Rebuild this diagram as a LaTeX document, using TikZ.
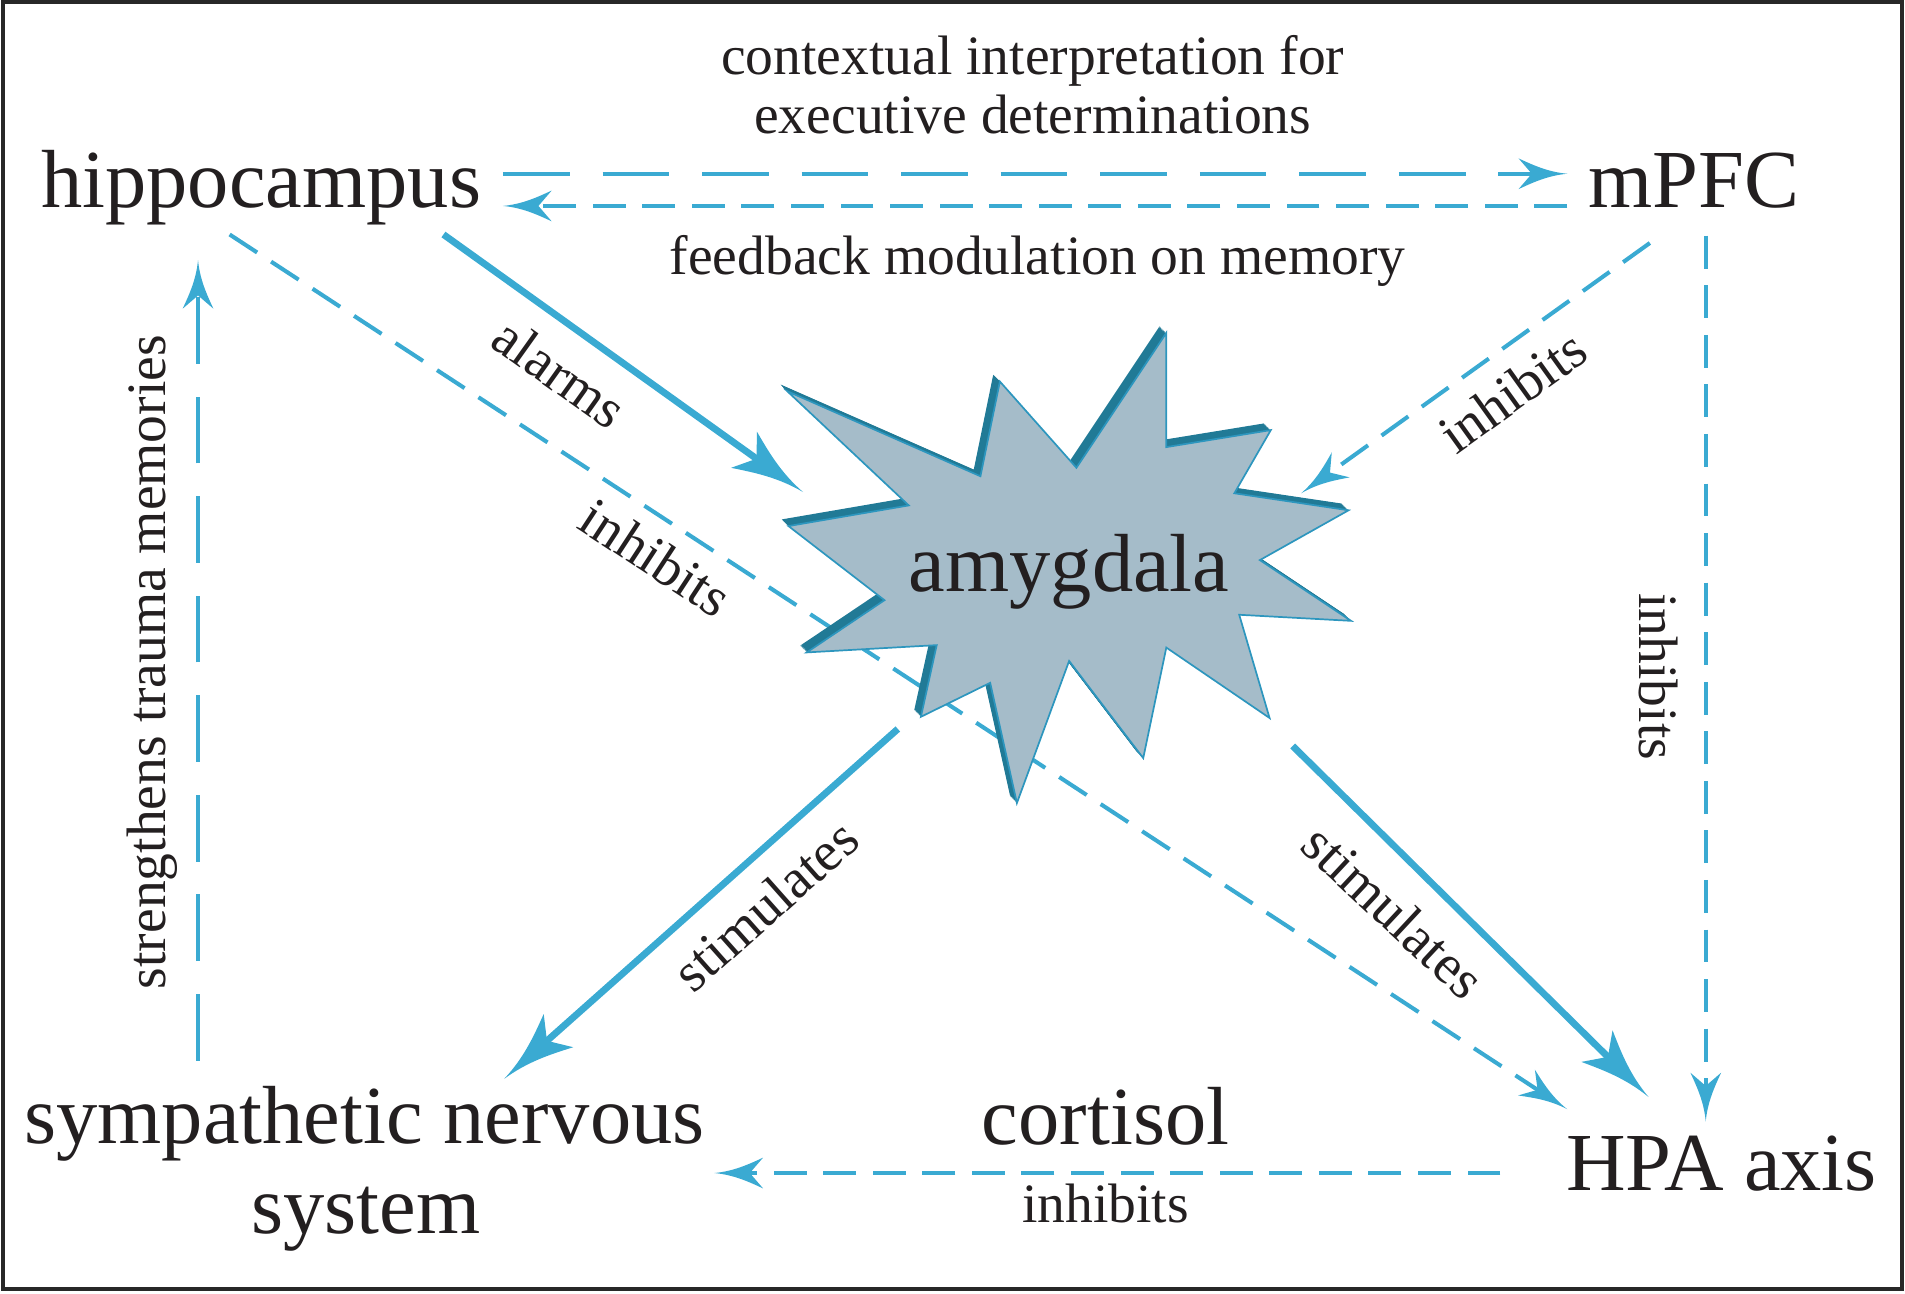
\documentclass[tikz,border=0pt]{standalone}
\usepackage{fontspec}
\setmainfont{Liberation Serif}
\usetikzlibrary{arrows.meta}
\definecolor{arrowblue}{RGB}{58,170,210}
\definecolor{starfill}{RGB}{165,188,201}
\definecolor{stardark}{RGB}{33,122,150}
\definecolor{starline}{RGB}{45,150,190}
\definecolor{txt}{RGB}{35,31,32}
\definecolor{frame}{RGB}{40,40,40}

\pgfdeclarearrow{
  name = Curvy,
  parameters = {\the\pgfarrowlength,\the\pgfarrowwidth,\the\pgfarrowinset},
  setup code = {
    \pgfarrowssettipend{\pgfarrowlength}
    \pgfarrowssetlineend{0.5\pgfarrowlength}
    \pgfarrowssetbackend{0pt}
    \pgfarrowssavethe\pgfarrowlength
    \pgfarrowssavethe\pgfarrowwidth
    \pgfarrowssavethe\pgfarrowinset
  },
  drawing code = {
    \pgfpathmoveto{\pgfqpoint{\pgfarrowlength}{0pt}}
    \pgfpathcurveto{\pgfqpoint{0.6\pgfarrowlength}{0.06\pgfarrowwidth}}{\pgfqpoint{0.3\pgfarrowlength}{0.28\pgfarrowwidth}}{\pgfqpoint{0pt}{0.5\pgfarrowwidth}}
    \pgfpathcurveto{\pgfqpoint{0.4\pgfarrowinset}{0.3\pgfarrowwidth}}{\pgfqpoint{0.8\pgfarrowinset}{0.1\pgfarrowwidth}}{\pgfqpoint{\pgfarrowinset}{0pt}}
    \pgfpathcurveto{\pgfqpoint{0.8\pgfarrowinset}{-0.1\pgfarrowwidth}}{\pgfqpoint{0.4\pgfarrowinset}{-0.3\pgfarrowwidth}}{\pgfqpoint{0pt}{-0.5\pgfarrowwidth}}
    \pgfpathcurveto{\pgfqpoint{0.3\pgfarrowlength}{-0.28\pgfarrowwidth}}{\pgfqpoint{0.6\pgfarrowlength}{-0.06\pgfarrowwidth}}{\pgfqpoint{\pgfarrowlength}{0pt}}
    \pgfpathclose
    \pgfusepathqfill
  },
  defaults = {length=10pt, width=6pt, inset=2pt}
}

\begin{document}
\begin{tikzpicture}[x=0.01cm,y=-0.01cm,
  big/.style={font=\fontsize{19.3pt}{23pt}\selectfont, text=txt, inner sep=0pt},
  small/.style={font=\fontsize{13pt}{15pt}\selectfont, text=txt, inner sep=0pt},
  solidarrow/.style={draw=arrowblue, line width=1.6pt, -{Curvy[length=17pt,width=10.4pt,inset=3.6pt]}},
  longdash/.style={draw=arrowblue, line width=0.95pt, dash pattern=on 15.6pt off 7.7pt, -{Curvy[length=11.4pt,width=7.2pt,inset=3.1pt]}},
  shortdash/.style={draw=arrowblue, line width=0.95pt, dash pattern=on 7.7pt off 3.9pt, -{Curvy[length=11.4pt,width=7.2pt,inset=3.1pt]}},
  starpath/.style={insert path={(648,322) -- (807,392) -- (823,314) -- (886,385) -- (960,274) -- (960,368) -- (1046,354) -- (1016,406) -- (1110,420) -- (1037,461) -- (1112,511) -- (1020,506) -- (1045,591) -- (960,533) -- (941,624) -- (880,544) -- (837,661) -- (815,562) -- (758,590) -- (771,531) -- (664,537) -- (728,494) -- (649,433) -- (748,416) -- cycle}}
]
\useasboundingbox (0,0) rectangle (1568,1064.3);
\draw[frame, line width=0.9pt] (2.7,1.8) rectangle (1565.5,1061.3);

% connector end points
\coordinate (hipTopR) at (414,143);
\coordinate (mpfcTopL) at (1290,143);
\coordinate (mpfcLowL) at (1290,169.5);
\coordinate (hipLowR) at (414,169.5);
\coordinate (hipAl) at (365,193);
\coordinate (amyAl) at (661,405);
\coordinate (hipDg) at (189,193);
\coordinate (hpaDg) at (1290,913);
\coordinate (mpfcDg) at (1358,200);
\coordinate (amyIn) at (1071,406);
\coordinate (mpfcV) at (1404,194);
\coordinate (hpaV) at (1404,923);
\coordinate (amyL) at (739,600);
\coordinate (sympSt) at (415,888);
\coordinate (amyR) at (1064,614);
\coordinate (hpaSt) at (1357,903);
\coordinate (hpaC) at (1235,965.5);
\coordinate (sympC) at (588,965.5);
\coordinate (sympV) at (163,873);
\coordinate (hipV) at (163,214);

% connectors (drawn below the starburst)
\draw[longdash] (hipTopR) -- (mpfcTopL);
\draw[shortdash] (mpfcLowL) -- (hipLowR);
\draw[solidarrow] (hipAl) -- (amyAl);
\draw[shortdash] (hipDg) -- (hpaDg);
\draw[shortdash] (mpfcDg) -- (amyIn);
\draw[shortdash] (mpfcV) -- (hpaV);
\draw[solidarrow] (amyL) -- (sympSt);
\draw[solidarrow] (amyR) -- (hpaSt);
\draw[shortdash] (hpaC) -- (sympC);
\draw[longdash] (sympV) -- (hipV);

% starburst
\foreach \d in {0.5,1,...,5.5} {
  \fill[stardark, shift={(-\d,-\d)}, starpath];
}
\filldraw[fill=starfill, draw=starline, line width=0.4pt, starpath];

% text nodes
\node[big, anchor=base] (hip) at (215,171) {hippocampus};
\node[big, anchor=base] (mpfc) at (1394,171) {mPFC};
\node[big, anchor=base] (symp1) at (300,941) {sympathetic nervous};
\node[big, anchor=base] (symp2) at (301,1015) {system};
\node[big, anchor=base] (hpa) at (1417,980) {HPA axis};
\node[big, anchor=base] (cort) at (910,942) {cortisol};
\node[big, anchor=base] (amy) at (880,487) {amygdala};
\node[small, anchor=base] (ctx1) at (850,61) {contextual interpretation for};
\node[small, anchor=base] (ctx2) at (850,110) {executive determinations};
\node[small, anchor=base] (fb) at (854,226) {feedback modulation on memory};
\node[small, anchor=base] (inhC) at (910,1006) {inhibits};

\node[small, rotate=-35.5] (lalarm) at (461,307) {alarms};
\node[small, rotate=-33.2] (linhA) at (540,459) {inhibits};
\node[small, rotate=35.7] (linhB) at (1245,322) {inhibits};
\node[small, rotate=-90] (linhV) at (1365,557) {inhibits};
\node[small, rotate=41.6] (lstimL) at (630,745) {stimulates};
\node[small, rotate=-43] (lstimR) at (1147,750) {stimulates};
\node[small, rotate=90] (lstr) at (125,545) {strengthens trauma memories};
\end{tikzpicture}
\end{document}
